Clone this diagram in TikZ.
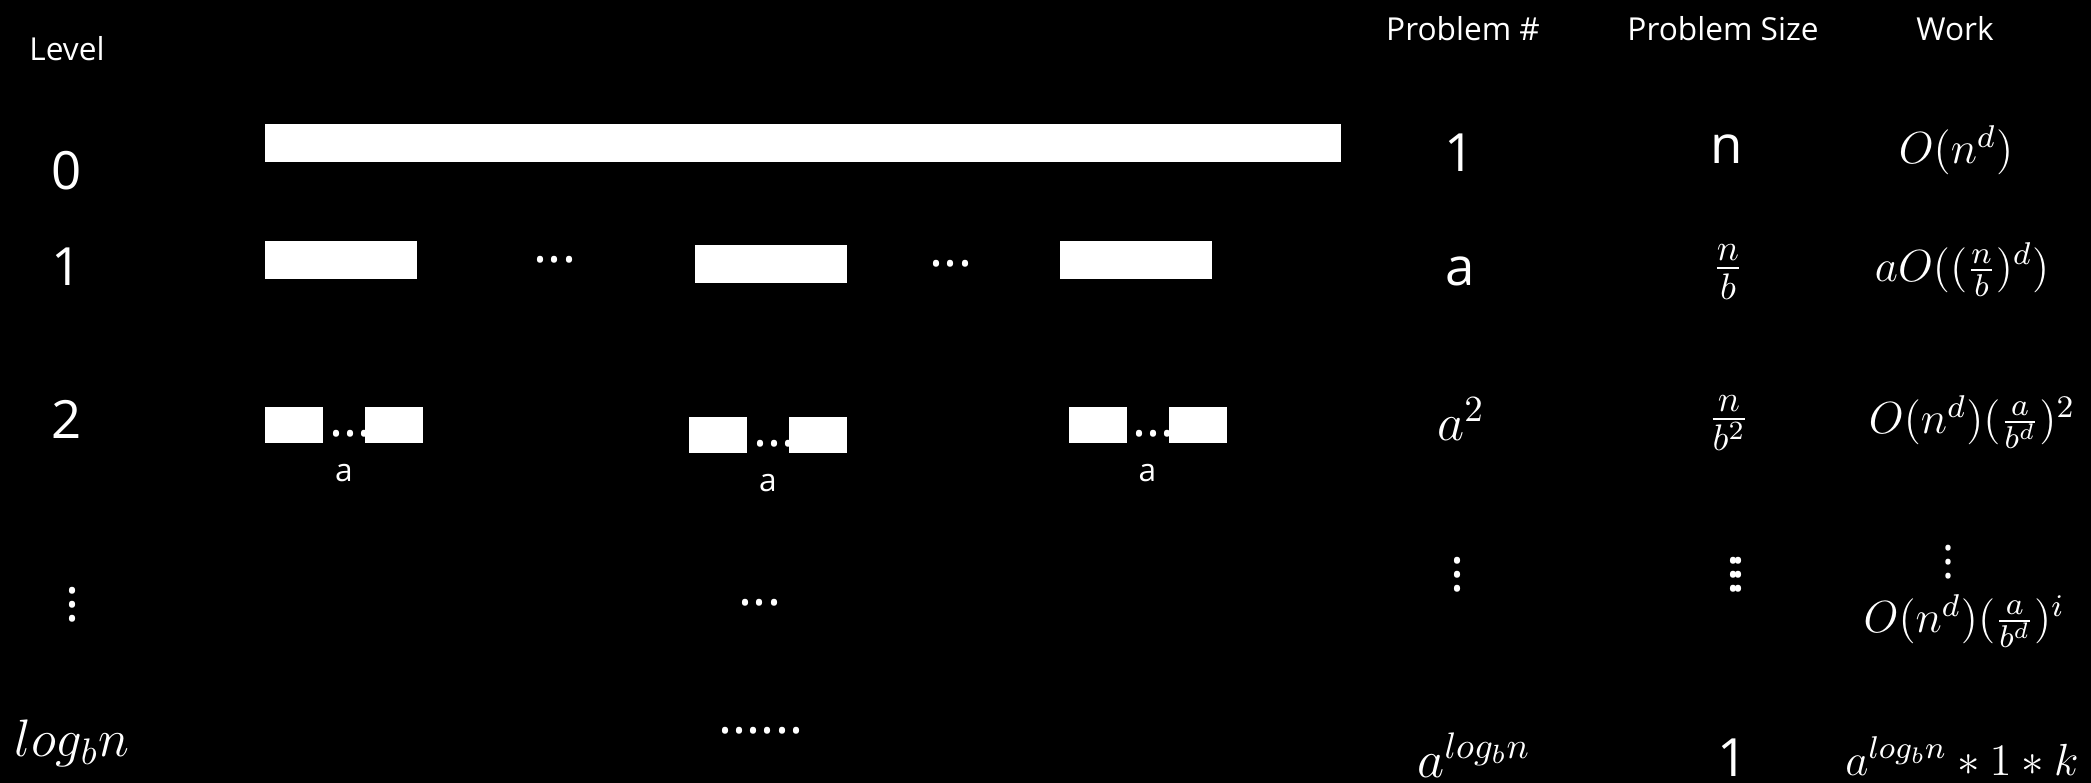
\RequirePackage{fix-cm}
\documentclass[tikz,border=0pt]{standalone}
\usepackage[no-math]{fontspec}
\setmainfont{Open Sans}
\usetikzlibrary{positioning}

\begin{document}
\begin{tikzpicture}[white,
  hdr/.style={font=\fontsize{9}{11}\selectfont, inner sep=0pt},
  big/.style={font=\fontsize{15}{18}\selectfont, inner sep=0pt},
  wrk/.style={font=\fontsize{12.8}{15}\selectfont, inner sep=0pt},
  bar/.style={rectangle, fill=white, inner sep=0pt, minimum height=0.38cm},
  sq/.style={rectangle, fill=white, inner sep=0pt, minimum width=0.58cm, minimum height=0.36cm}]
  \fill[black] (0,0) rectangle (20.91,7.83);
  \useasboundingbox (0,0) rectangle (20.91,7.83);
  % level column
  \node[hdr] (lvl) at (0.67,7.34) {Level};
  \foreach \n/\y in {0/6.12, 1/5.16, 2/3.64}
    \node[big] (lv\n) at (0.67,\y) {\n};
  \node[big] (lvdots) at (0.73,1.89) {$\vdots$};
  \node[big] (lvlog) at (0.72,0.40) {$log_b n$};
  % recursion tree
  \node[bar, minimum width=10.76cm] (bar0) at (8.03,6.395) {};
  \node[bar, minimum width=1.52cm] (bar1a) at (3.41,5.23) {};
  \node[bar, minimum width=1.52cm] (bar1b) at (7.71,5.19) {};
  \node[bar, minimum width=1.52cm] (bar1c) at (11.36,5.225) {};
  \node[big] (dots1a) at (5.55,5.23) {...};
  \node[big] (dots1b) at (9.51,5.19) {...};
  \foreach \i/\x/\y in {1/2.94/3.58, 2/7.18/3.48, 3/10.975/3.58} {
    \node[sq] (l\i) at (\x,\y) {};
    \node[big, anchor=west] (d\i) at ([xshift=0.05cm, yshift=0.1cm]l\i.south east) {...};
    \node[sq, right=0.41cm of l\i] (r\i) {};
    \node[hdr] (a\i) at ([xshift=0.5cm, yshift=-0.48cm]l\i.center) {a};
  }
  \node[big] (dots3) at (7.60,1.80) {...};
  \node[big] (dots4) at (7.61,0.52) {......};
  % table
  \node[hdr] (hnum) at (14.63,7.54) {Problem \#};
  \node[hdr] (hsize) at (17.23,7.54) {Problem Size};
  \node[hdr] (hwork) at (19.55,7.54) {Work};
  \node[big] (p0) at (14.60,6.30) {1};
  \node[big] (s0) at (17.27,6.34) {n};
  \node[wrk] (w0) at (19.56,6.33) {$O(n^d)$};
  \node[big] (p1) at (14.60,5.12) {a};
  \node[big] (s1) at (17.28,5.11) {$\frac{n}{b}$};
  \node[wrk] (w1) at (19.62,5.13) {$aO((\frac{n}{b})^d)$};
  \node[big] (p2) at (14.61,3.64) {$a^2$};
  \node[big] (s2) at (17.29,3.60) {$\frac{n}{b^2}$};
  \node[wrk] (w2) at (19.72,3.61) {$O(n^d)(\frac{a}{b^d})^2$};
  \node[big] (p3) at (14.57,2.19) {$\vdots$};
  \node[big] (s3) at (17.36,2.19) {$\vdots\mkern-3mu\vdots$};
  \node[wrk] (w3) at (19.48,2.31) {$\vdots$};
  \node[wrk] (w4) at (19.64,1.62) {$O(n^d)(\frac{a}{b^d})^i$};
  \node[big] (p4) at (14.74,0.28) {$a^{log_b n}$};
  \node[big] (s4) at (17.33,0.25) {1};
  \node[wrk] (w5) at (19.62,0.27) {$a^{log_b n} * 1 * k$};
\end{tikzpicture}
\end{document}
